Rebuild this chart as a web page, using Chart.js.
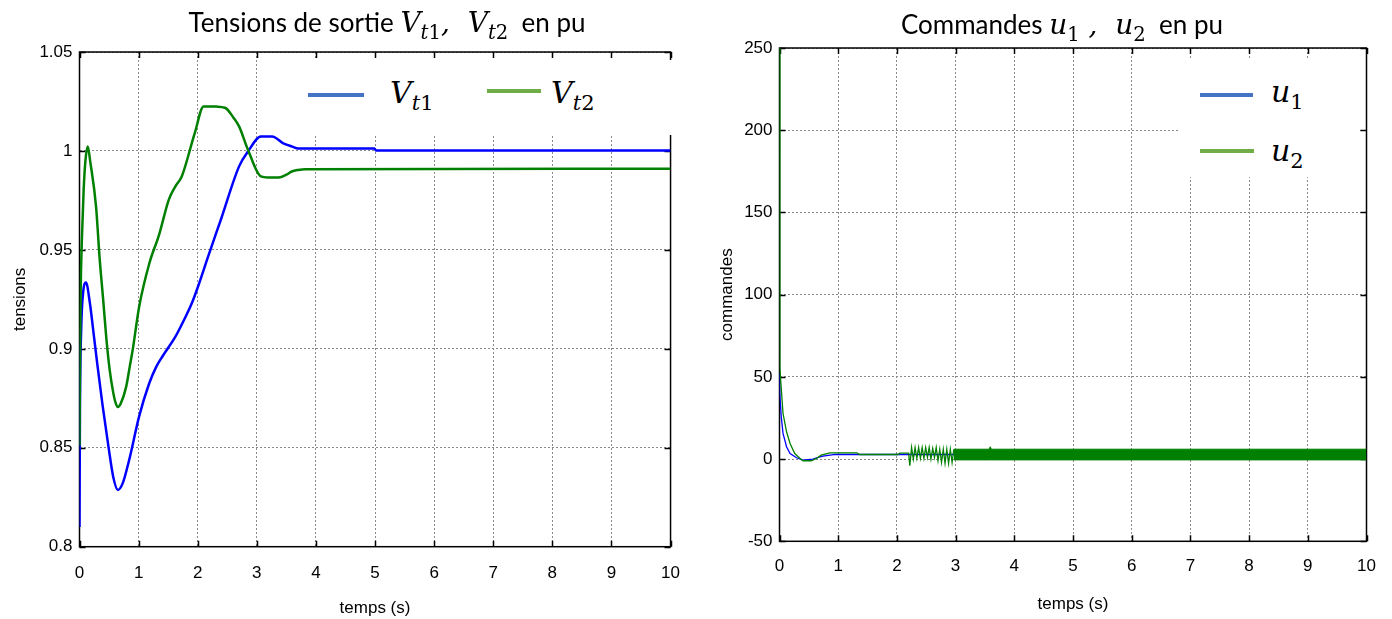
<!DOCTYPE html>
<html>
<head>
<meta charset="utf-8">
<script src="https://cdn.jsdelivr.net/npm/chart.js@4.4.1/dist/chart.umd.min.js"></script>
<style>
  html, body { margin: 0; padding: 0; background: #fff; }
  #page { position: relative; width: 1392px; height: 619px; overflow: hidden; }
  .panel { position: absolute; top: 0; width: 696px; height: 619px; }
  .title { position: absolute; width: 600px; text-align: center; font-family: Lato, "Open Sans", sans-serif;
           font-size: 26px; line-height: 30px; color: #000; white-space: pre; z-index: 3; }
  .m { font-family: "DejaVu Serif", serif; font-style: italic; font-size: 28px; line-height: 30px; }
  .m sub { font-size: 0.7em; vertical-align: -0.35em; font-style: normal; line-height: 0; }
  .m sub i { font-style: italic; }
  .legendBox { position: absolute; background: #fff; z-index: 2; }
  .swatch { position: absolute; height: 4px; z-index: 3; }
  .lab { position: absolute; z-index: 3; font-family: "DejaVu Serif", serif; font-style: italic;
         font-size: 30px; line-height: 30px; white-space: pre; }
  .lab sub { font-size: 0.7em; vertical-align: -0.35em; font-style: normal; line-height: 0; }
  .lab sub i { font-style: italic; }
</style>
</head>
<body>
<div id="page">
  <div class="panel" style="left:0"><canvas id="chartV" width="696" height="619"></canvas></div>
  <div class="panel" style="left:696px"><canvas id="chartU" width="696" height="619"></canvas></div>

  <div class="title" style="left:87px; top:7px">Tensions de sortie <span class="m">V<sub><i>t</i>1</sub>,  V<sub><i>t</i>2</sub></span>  en pu</div>
  <div class="title" style="left:762px; top:9px">Commandes <span class="m">u<sub>1</sub> ,  u<sub>2</sub></span>  en pu</div>

  <!-- legend, left chart -->
  <div class="legendBox" style="left:290px; top:60px; width:385px; height:75px"></div>
  <div class="swatch" style="left:308px; top:93px; width:56px; background:#4472C4"></div>
  <div class="lab" style="left:390px; top:78px">V<sub><i>t</i>1</sub></div>
  <div class="swatch" style="left:487px; top:89px; width:54px; background:#70AD47"></div>
  <div class="lab" style="left:551px; top:78px">V<sub><i>t</i>2</sub></div>

  <!-- legend, right chart -->
  <div class="legendBox" style="left:1180px; top:60px; width:178px; height:117px"></div>
  <div class="swatch" style="left:1200px; top:93px; width:53px; background:#4472C4"></div>
  <div class="lab" style="left:1271px; top:77px">u<sub>1</sub></div>
  <div class="swatch" style="left:1200px; top:149px; width:54px; background:#70AD47"></div>
  <div class="lab" style="left:1271px; top:136px">u<sub>2</sub></div>
</div>

<script>
// Tensions de sortie (pu)
const v1Time   = [0, 0.008, 0.03, 0.06, 0.11, 0.176, 0.23, 0.30, 0.39, 0.49, 0.57, 0.65, 0.73, 0.84, 1.01, 1.18, 1.30, 1.40, 1.62, 1.77, 1.90, 2.00, 2.18, 2.40, 2.70, 2.85, 3.07, 3.26, 3.44, 3.60, 3.70, 4.99, 5.02, 10];
const v1Values = [0.810, 0.870, 0.911, 0.928, 0.9335, 0.923, 0.910, 0.8925, 0.8715, 0.8506, 0.8354, 0.8287, 0.832, 0.8438, 0.866, 0.8826, 0.891, 0.896, 0.906, 0.9147, 0.923, 0.931, 0.947, 0.966, 0.9922, 0.9997, 1.0073, 1.0073, 1.004, 1.0022, 1.0012, 1.0012, 1.0002, 1.0002];

const v2Time   = [0, 0.01, 0.02, 0.04, 0.07, 0.10, 0.14, 0.18, 0.28, 0.34, 0.40, 0.455, 0.51, 0.57, 0.61, 0.65, 0.70, 0.79, 0.85, 0.90, 1.01, 1.18, 1.35, 1.51, 1.62, 1.73, 1.95, 2.10, 2.32, 2.47, 2.60, 2.70, 2.85, 3.07, 3.18, 3.37, 3.50, 3.59, 3.70, 3.82, 10];
const v2Values = [0.851, 0.900, 0.930, 0.955, 0.980, 0.995, 1.0023, 0.995, 0.9719, 0.946, 0.925, 0.905, 0.8895, 0.878, 0.8728, 0.8706, 0.8725, 0.8809, 0.891, 0.8995, 0.9214, 0.943, 0.958, 0.9753, 0.982, 0.9871, 1.009, 1.0225, 1.0224, 1.0217, 1.017, 1.0124, 1.0006, 0.9871, 0.9866, 0.9866, 0.988, 0.9896, 0.9904, 0.9908, 0.991];

// Commandes (pu)
const u1Time   = [0, 0.005, 0.03, 0.06, 0.12, 0.18, 0.29, 0.40, 0.57, 0.66, 0.74, 0.86, 0.95, 2.2, 10];
const u1Values = [52, 40, 25.7, 15.6, 7.5, 3.4, 0.8, -0.6, 0, 1.0, 1.8, 2.4, 2.8, 2.8, 2.8];

const u2Time   = [0, 0.008, 0.02, 0.06, 0.12, 0.18, 0.26, 0.35, 0.40, 0.54, 0.63, 0.71, 0.86, 1.32, 1.36, 2.02, 2.05, 2.20,
                  2.22, 2.25, 2.28, 2.31, 2.34, 2.37, 2.40, 2.43, 2.46, 2.49, 2.52, 2.55, 2.58, 2.61, 2.64, 2.67, 2.70,
                  2.73, 2.76, 2.79, 2.82, 2.85, 2.88, 2.91, 2.94, 2.97];
const u2Values = [260, 55, 48, 27.7, 16.6, 9.5, 3.4, 0.4, -1, -1, 0.4, 2.4, 3.8, 3.8, 2.8, 2.8, 3.6, 3.6,
                  -4, 7, 0, 7, 0.5, 7, 0.5, 7, 0.5, 7, 1, 7, 0, 6.5, 1, 7, -1,
                  6, -2, 6, -2.5, 6, -2.6, 6, -2, 6];

// chattering band of u2 after t = 3 s (upper / lower envelope)
const bandTime  = [2.97, 3.57, 3.59, 3.61, 10];
const bandUpper = [6, 6, 7.5, 6, 6];
const bandLower = [-0.5, -0.5, -0.5, -0.5, -0.5];

const xTickValues = [0, 1, 2, 3, 4, 5, 6, 7, 8, 9, 10];
const xTickLabels = ['0', '1', '2', '3', '4', '5', '6', '7', '8', '9', '10'];
const vTickValues = [0.8, 0.85, 0.9, 0.95, 1, 1.05];
const vTickLabels = ['0.8', '0.85', '0.9', '0.95', '1', '1.05'];
const uTickValues = [-50, 0, 50, 100, 150, 200, 250];
const uTickLabels = ['-50', '0', '50', '100', '150', '200', '250'];

const BLUE = '#0000ff';
const GREEN = '#008000';

function pts(time, values) {
    return time.map((t, i) => ({ x: t, y: values[i] }));
}

// black box round the plot area + small inward ticks (matlab style)
const framePlugin = {
    id: 'frame',
    beforeDatasetsDraw(chart) {
        const { ctx, chartArea: a, scales: { x, y } } = chart;
        ctx.save();
        ctx.strokeStyle = '#000';
        ctx.lineWidth = 1.5;
        ctx.strokeRect(a.left, a.top, a.right - a.left, a.bottom - a.top);
        ctx.beginPath();
        x.ticks.forEach(t => {
            const px = Math.round(x.getPixelForValue(t.value)) + 0.5;
            ctx.moveTo(px, a.bottom); ctx.lineTo(px, a.bottom - 6);
            ctx.moveTo(px, a.top); ctx.lineTo(px, a.top + 6);
        });
        y.ticks.forEach(t => {
            const py = Math.round(y.getPixelForValue(t.value)) + 0.5;
            ctx.moveTo(a.left, py); ctx.lineTo(a.left + 6, py);
            ctx.moveTo(a.right, py); ctx.lineTo(a.right - 6, py);
        });
        ctx.stroke();
        ctx.restore();
    }
};

function makeScales(opt) {
    const tickFont = { family: '"Liberation Sans", Arial, sans-serif', size: 17 };
    const titleFont = { family: '"Liberation Sans", Arial, sans-serif', size: 17 };
    const grid = { color: '#8a8a8a', lineWidth: 1, drawTicks: false };
    return {
        x: {
            type: 'linear', min: 0, max: 10,
            afterBuildTicks: s => { s.ticks = xTickValues.map(v => ({ value: v })); },
            afterFit: s => { s.height = opt.xHeight; },
            ticks: { color: '#000', font: tickFont, padding: opt.xPad, maxRotation: 0,
                     callback: (v, i) => xTickLabels[i] },
            grid: grid,
            border: { display: false, dash: [2, 2] },
            title: { display: true, text: 'temps (s)', color: '#000', font: titleFont,
                     padding: { top: 0, bottom: opt.xTitlePad } }
        },
        y: {
            type: 'linear', min: opt.yMin, max: opt.yMax,
            afterBuildTicks: s => { s.ticks = opt.yTicks.map(v => ({ value: v })); },
            afterFit: s => { s.width = opt.yWidth; },
            ticks: { color: '#000', font: tickFont, padding: 7,
                     callback: (v, i) => opt.yLabels[i] },
            grid: grid,
            border: { display: false, dash: [2, 2] },
            title: { display: true, text: opt.yTitle, color: '#000', font: titleFont,
                     padding: { top: 0, bottom: 0 } }
        }
    };
}

new Chart(document.getElementById('chartV'), {
    type: 'line',
    data: {
        datasets: [
            { label: 'Vt2', data: pts(v2Time, v2Values), borderColor: GREEN, borderWidth: 2.5 },
            { label: 'Vt1', data: pts(v1Time, v1Values), borderColor: BLUE, borderWidth: 2.5 }
        ]
    },
    options: {
        responsive: false,
        animation: false,
        parsing: false,
        elements: { point: { radius: 0 }, line: { cubicInterpolationMode: 'monotone', fill: false } },
        layout: { padding: { left: 10, top: 52, right: 19, bottom: 0 } },
        plugins: { legend: { display: false }, tooltip: { enabled: false } },
        scales: makeScales({
            yMin: 0.8, yMax: 1.05, yTicks: vTickValues, yLabels: vTickLabels, yTitle: 'tensions',
            yWidth: 69.5, xHeight: 72.3, xPad: 16, xTitlePad: 0
        })
    },
    plugins: [framePlugin]
});

new Chart(document.getElementById('chartU'), {
    type: 'line',
    data: {
        datasets: [
            { label: 'u2', data: pts(u2Time, u2Values), borderColor: GREEN, borderWidth: 1.3 },
            { label: 'u2 band', data: pts(bandTime, bandUpper), borderColor: GREEN, backgroundColor: GREEN,
              borderWidth: 1, fill: '+1' },
            { label: 'u2 band low', data: pts(bandTime, bandLower), borderColor: GREEN, borderWidth: 1 },
            { label: 'u1', data: pts(u1Time, u1Values), borderColor: BLUE, borderWidth: 1.3 }
        ]
    },
    options: {
        responsive: false,
        animation: false,
        parsing: false,
        elements: { point: { radius: 0 }, line: { tension: 0, fill: false } },
        layout: { padding: { left: 21, top: 48, right: 25.5, bottom: 0 } },
        plugins: { legend: { display: false }, tooltip: { enabled: false } },
        scales: makeScales({
            yMin: -50, yMax: 250, yTicks: uTickValues, yLabels: uTickLabels, yTitle: 'commandes',
            yWidth: 62.5, xHeight: 77.7, xPad: 15, xTitlePad: 4
        })
    },
    plugins: [framePlugin]
});
</script>
</body>
</html>
